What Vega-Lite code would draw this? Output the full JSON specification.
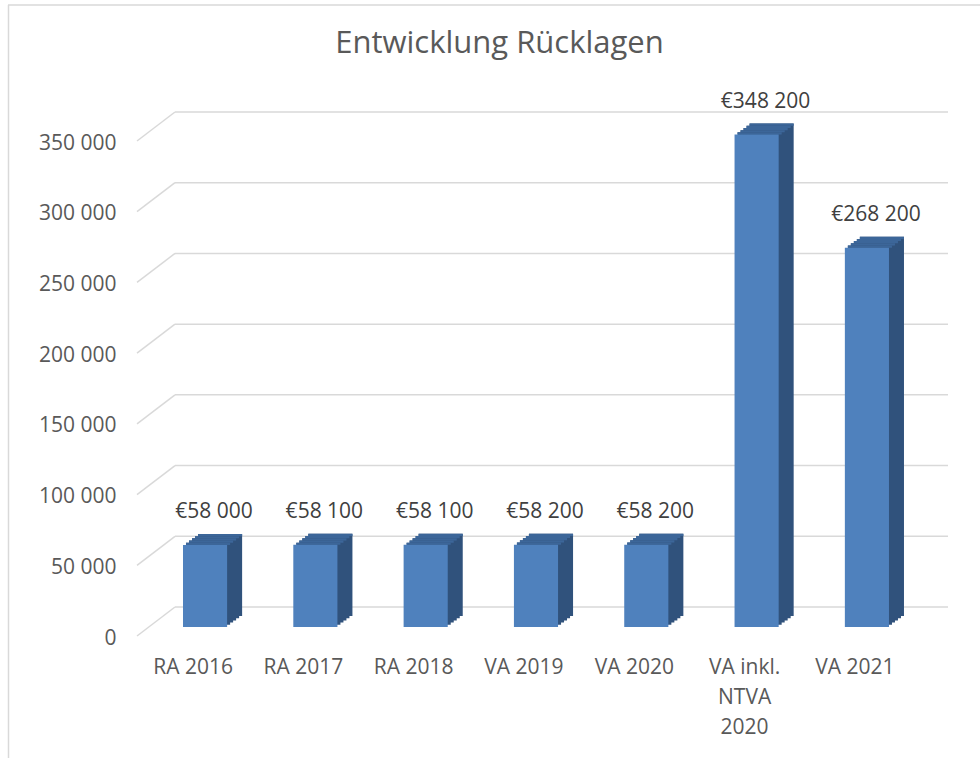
{
  "$schema": "https://vega.github.io/schema/vega-lite/v6.json",
  "width": 811,
  "height": 495,
  "autosize": {"type": "none"},
  "padding": {"left": 137, "top": 141, "right": 32, "bottom": 122},
  "background": "white",
  "config": {
    "view": {"stroke": null},
    "font": "Open Sans",
    "locale": {"number": {"decimal": ",", "thousands": " ", "grouping": [3], "currency": ["€", ""]}},
    "axis": {"labelFont": "Open Sans", "labelFontSize": 21, "labelColor": "#595959", "domain": false, "ticks": false, "grid": false}
  },
  "datasets": {
    "bars": [
      {"cat": "RA 2016", "value": 58000},
      {"cat": "RA 2017", "value": 58100},
      {"cat": "RA 2018", "value": 58100},
      {"cat": "VA 2019", "value": 58200},
      {"cat": "VA 2020", "value": 58200},
      {"cat": "VA inkl. NTVA 2020", "value": 348200},
      {"cat": "VA 2021", "value": 268200}
    ],
    "ticks": [
      {"tick": 0}, {"tick": 50000}, {"tick": 100000}, {"tick": 150000},
      {"tick": 200000}, {"tick": 250000}, {"tick": 300000}, {"tick": 350000}
    ]
  },
  "title": {"text": "Entwicklung Rücklagen", "font": "Open Sans", "fontSize": 31, "fontWeight": "normal", "color": "#595959", "anchor": "middle", "dx": -43, "offset": 0, "baseline": "alphabetic", "dy": 80},
  "layer": [
    {
      "data": {"name": "ticks"},
      "mark": {"type": "rule", "color": "#d9d9d9", "strokeWidth": 1.5, "yOffset": -29},
      "encoding": {
        "y": {"field": "tick", "type": "quantitative", "scale": {"domain": [0, 350000], "nice": false},
              "axis": {"values": [0, 50000, 100000, 150000, 200000, 250000, 300000, 350000], "format": ",.0f", "labelPadding": 21, "labelOffset": 2, "title": null}},
        "x": {"value": 38},
        "x2": {"value": 811}
      }
    },
    {
      "data": {"name": "ticks"},
      "mark": {"type": "rule", "color": "#d9d9d9", "strokeWidth": 1.5, "y2Offset": -29},
      "encoding": {
        "y": {"field": "tick", "type": "quantitative"},
        "y2": {"field": "tick"},
        "x": {"value": 0},
        "x2": {"value": 38}
      }
    },
    {
      "data": {"name": "ticks"},
      "transform": [{"filter": "datum.tick == 350000"}],
      "mark": {"type": "rule", "color": "#d9d9d9", "strokeWidth": 1.5, "yOffset": -136, "y2Offset": -136},
      "encoding": {"y": {"field": "tick", "type": "quantitative"}, "y2": {"field": "tick"}, "x": {"value": -129}, "x2": {"value": 845}}
    },
    {
      "data": {"name": "ticks"},
      "transform": [{"filter": "datum.tick == 350000"}],
      "mark": {"type": "rule", "color": "#d9d9d9", "strokeWidth": 1.5, "yOffset": -136, "y2Offset": 130},
      "encoding": {"y": {"field": "tick", "type": "quantitative"}, "y2": {"datum": 0}, "x": {"value": -128.5}}
    },
    {"data": {"name": "bars"}, "mark": {"type": "bar", "color": "#30527c", "xOffset": 3, "yOffset": -11.2, "y2Offset": -11.2},
     "encoding": {"x": {"field": "cat", "type": "nominal", "sort": null}, "y": {"field": "value", "type": "quantitative"}, "y2": {"datum": 0}}},
    {"data": {"name": "bars"}, "mark": {"type": "bar", "color": "#30527c", "xOffset": 6, "yOffset": -13.4, "y2Offset": -13.4},
     "encoding": {"x": {"field": "cat", "type": "nominal", "sort": null}, "y": {"field": "value", "type": "quantitative"}, "y2": {"datum": 0}}},
    {"data": {"name": "bars"}, "mark": {"type": "bar", "color": "#30527c", "xOffset": 9, "yOffset": -15.6, "y2Offset": -15.6},
     "encoding": {"x": {"field": "cat", "type": "nominal", "sort": null}, "y": {"field": "value", "type": "quantitative"}, "y2": {"datum": 0}}},
    {"data": {"name": "bars"}, "mark": {"type": "bar", "color": "#30527c", "xOffset": 12, "yOffset": -17.8, "y2Offset": -17.8},
     "encoding": {"x": {"field": "cat", "type": "nominal", "sort": null}, "y": {"field": "value", "type": "quantitative"}, "y2": {"datum": 0}}},
    {"data": {"name": "bars"}, "mark": {"type": "bar", "color": "#30527c", "xOffset": 15, "yOffset": -20, "y2Offset": -20},
     "encoding": {"x": {"field": "cat", "type": "nominal", "sort": null}, "y": {"field": "value", "type": "quantitative"}, "y2": {"datum": 0}}},
    {"data": {"name": "bars"}, "mark": {"type": "bar", "color": "#3c6699", "xOffset": 3, "yOffset": -11.2, "y2Offset": -9},
     "encoding": {"x": {"field": "cat", "type": "nominal", "sort": null}, "y": {"field": "value", "type": "quantitative"}, "y2": {"field": "value"}}},
    {"data": {"name": "bars"}, "mark": {"type": "bar", "color": "#3c6699", "xOffset": 6, "yOffset": -13.4, "y2Offset": -11.2},
     "encoding": {"x": {"field": "cat", "type": "nominal", "sort": null}, "y": {"field": "value", "type": "quantitative"}, "y2": {"field": "value"}}},
    {"data": {"name": "bars"}, "mark": {"type": "bar", "color": "#3c6699", "xOffset": 9, "yOffset": -15.6, "y2Offset": -13.4},
     "encoding": {"x": {"field": "cat", "type": "nominal", "sort": null}, "y": {"field": "value", "type": "quantitative"}, "y2": {"field": "value"}}},
    {"data": {"name": "bars"}, "mark": {"type": "bar", "color": "#3c6699", "xOffset": 12, "yOffset": -17.8, "y2Offset": -15.6},
     "encoding": {"x": {"field": "cat", "type": "nominal", "sort": null}, "y": {"field": "value", "type": "quantitative"}, "y2": {"field": "value"}}},
    {"data": {"name": "bars"}, "mark": {"type": "bar", "color": "#3c6699", "xOffset": 15, "yOffset": -20, "y2Offset": -17.8},
     "encoding": {"x": {"field": "cat", "type": "nominal", "sort": null}, "y": {"field": "value", "type": "quantitative"}, "y2": {"field": "value"}}},
    {"data": {"name": "bars"}, "mark": {"type": "bar", "color": "#4f81bd", "yOffset": -9, "y2Offset": -9},
     "encoding": {
       "x": {"field": "cat", "type": "nominal", "sort": null,
             "scale": {"paddingInner": 0.6, "paddingOuter": 0.476, "align": 0.438},
             "axis": {"title": null, "labelAngle": 0, "labelAlign": "center", "labelBaseline": "top", "labelOffset": -12, "labelPadding": 20, "labelLineHeight": 30, "labelLimit": 0,
                      "labelExpr": "datum.label == 'VA inkl. NTVA 2020' ? ['VA inkl.', 'NTVA', '2020'] : datum.label"}},
       "y": {"field": "value", "type": "quantitative"},
       "y2": {"datum": 0}
     }},
    {
      "data": {"name": "bars"},
      "mark": {"type": "text", "font": "Open Sans", "fontSize": 21, "color": "#404040", "baseline": "alphabetic", "align": "center", "dx": 9, "dy": -36},
      "encoding": {
        "x": {"field": "cat", "type": "nominal", "sort": null},
        "y": {"field": "value", "type": "quantitative"},
        "text": {"field": "value", "type": "quantitative", "format": "$,.0f"}
      }
    }
  ]
}
